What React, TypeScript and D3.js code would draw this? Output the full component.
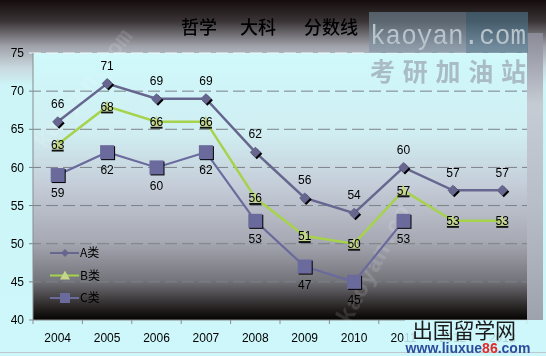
import React from "react";
import * as d3 from "d3";

const years = ["2004", "2005", "2006", "2007", "2008", "2009", "2010", "2011", "2012", "2013"];
const seriesA = [66, 71, 69, 69, 62, 56, 54, 60, 57, 57];
const seriesB = [63, 68, 66, 66, 56, 51, 50, 57, 53, 53];
const seriesC = [59, 62, 60, 62, 53, 47, 45, 53];
const yTicks = [40, 45, 50, 55, 60, 65, 70, 75];
const titleParts = ["哲学", "大科", "分数线"];
const legendNames = ["A类", "B类", "C类"];

const W = 546;
const H = 356;
const plot = { left: 33, right: 527, top: 53, bottom: 320 };

export default function App() {
  const x = d3.scaleBand<string>().domain(years).range([plot.left, plot.right]);
  const y = d3.scaleLinear().domain([40, 75]).range([plot.bottom, plot.top]);
  const cx = (i: number) => (x(years[i]) as number) + x.bandwidth() / 2;
  const line = d3
    .line<number>()
    .x((_, i) => cx(i))
    .y((d) => y(d));

  const numFont = "'Liberation Sans', Arial, sans-serif";
  const cjk = "'Noto Sans CJK SC', sans-serif";
  const colA = "#66668f";
  const colB = "#a6d24c";
  const colC = "#6a6a9c";

  const diamond = (px: number, py: number, r: number) =>
    `M${px},${py - r}L${px + r},${py}L${px},${py + r}L${px - r},${py}Z`;
  const tri = (px: number, py: number, r: number) =>
    `M${px},${py - r}L${px + r},${py + r * 0.8}L${px - r},${py + r * 0.8}Z`;

  return (
    <svg width={W} height={H} style={{ position: "absolute", left: 0, top: 0 }}>
      <defs>
        <linearGradient id="outer" x1="0" y1="0" x2="0" y2="1">
          <stop offset="0" stopColor="#150d0d" />
          <stop offset="0.06" stopColor="#3a3436" />
          <stop offset="0.13" stopColor="#a0a2aa" />
          <stop offset="0.19" stopColor="#c8d8de" />
          <stop offset="0.24" stopColor="#cdf5f8" />
          <stop offset="1" stopColor="#cdf7fa" />
        </linearGradient>
        <linearGradient id="plotbg" x1="0" y1="0" x2="0" y2="1">
          <stop offset="0" stopColor="#cff9fb" />
          <stop offset="0.3" stopColor="#d0eef2" />
          <stop offset="0.5" stopColor="#c4ccd8" />
          <stop offset="0.7" stopColor="#a8aab4" />
          <stop offset="0.85" stopColor="#75757c" />
          <stop offset="0.95" stopColor="#2a2626" />
          <stop offset="1" stopColor="#050202" />
        </linearGradient>
        <linearGradient id="rightstrip" x1="0" y1="0" x2="0" y2="1">
          <stop offset="0" stopColor="#8a8a96" />
          <stop offset="0.25" stopColor="#c6ccd4" />
          <stop offset="0.6" stopColor="#b8bec8" />
          <stop offset="1" stopColor="#9ea2ac" />
        </linearGradient>
      </defs>

      <rect x={0} y={0} width={W} height={H} fill="url(#outer)" />
      <rect x={plot.right} y={plot.top - 20} width={16} height={plot.bottom - plot.top + 20} fill="url(#rightstrip)" />
      <rect
        x={plot.left}
        y={plot.top}
        width={plot.right - plot.left}
        height={plot.bottom - plot.top}
        fill="url(#plotbg)"
      />
      <line x1={0} x2={W} y1={352.5} y2={352.5} stroke="#c0c8cc" />

      {/* faint diagonal watermarks */}
      <g opacity={0.14} fill="#ffffff" fontFamily="'Liberation Mono', monospace" fontWeight="bold" fontSize={24}>
        <text transform="translate(45,150) rotate(-52)">kaoyan.com</text>
        <text transform="translate(350,325) rotate(-62)">kaoyan.co</text>
      </g>

      {/* gridlines */}
      {yTicks.slice(1).map((t) => (
        <line
          key={t}
          x1={plot.left - 4}
          x2={plot.right}
          y1={y(t)}
          y2={y(t)}
          stroke={t === 75 ? "#f4f8f8" : "#7c8288"}
          strokeWidth={1}
          strokeDasharray="12,5"
        />
      ))}

      {/* axes */}
      <line x1={plot.left} x2={plot.left} y1={plot.top} y2={plot.bottom} stroke="#888c90" />
      <line x1={plot.left - 4} x2={plot.right} y1={plot.bottom} y2={plot.bottom} stroke="#888c90" />
      {years.map((yr) => (
        <line
          key={yr}
          x1={x(yr) as number}
          x2={x(yr) as number}
          y1={plot.bottom}
          y2={plot.bottom + 4}
          stroke="#888c90"
        />
      ))}
      <line x1={plot.right} x2={plot.right} y1={plot.bottom} y2={plot.bottom + 4} stroke="#888c90" />
      {yTicks.map((t) => (
        <text
          key={t}
          x={24}
          y={y(t)}
          dy="0.35em"
          textAnchor="end"
          fontFamily={numFont}
          fontSize={12}
          fill="#000"
        >
          {t}
        </text>
      ))}
      {years.map((yr) => (
        <text
          key={yr}
          x={(x(yr) as number) + x.bandwidth() / 2}
          y={338}
          dy="0.35em"
          textAnchor="middle"
          fontFamily={numFont}
          fontSize={12}
          fill="#000"
        >
          {yr}
        </text>
      ))}

      {/* series lines */}
      <path d={line(seriesC) || ""} fill="none" stroke={colC} strokeWidth={2.2} />
      <path d={line(seriesB) || ""} fill="none" stroke={colB} strokeWidth={2.5} />
      <path d={line(seriesA) || ""} fill="none" stroke={colA} strokeWidth={2.5} />

      {/* C markers */}
      {seriesC.map((v, i) => (
        <g key={"c" + i}>
          <rect x={cx(i) - 6} y={y(v) - 6} width={14} height={14} fill="#000" />
          <rect x={cx(i) - 7} y={y(v) - 7} width={14} height={14} fill={colC} />
        </g>
      ))}
      {/* B markers */}
      {seriesB.map((v, i) => (
        <g key={"b" + i}>
          <rect x={cx(i) - 6} y={y(v) + 5} width={12} height={2} fill="#111" />
          <path d={tri(cx(i), y(v), 6)} fill="#c4d68c" />
        </g>
      ))}
      {/* A markers */}
      {seriesA.map((v, i) => (
        <g key={"a" + i}>
          <path d={diamond(cx(i) + 1.5, y(v) + 1.5, 5.5)} fill="#000" />
          <path d={diamond(cx(i), y(v), 5.5)} fill={colA} />
        </g>
      ))}

      {/* labels */}
      {seriesA.map((v, i) => (
        <text
          key={"la" + i}
          x={cx(i)}
          y={y(v) - 18}
          dy="0.35em"
          textAnchor="middle"
          fontFamily={numFont}
          fontSize={12}
          fill="#000"
        >
          {v}
        </text>
      ))}
      {seriesB.map((v, i) => (
        <text
          key={"lb" + i}
          x={cx(i)}
          y={y(v)}
          dy="0.35em"
          textAnchor="middle"
          fontFamily={numFont}
          fontSize={12}
          fill="#000"
        >
          {v}
        </text>
      ))}
      {seriesC.map((v, i) => (
        <text
          key={"lc" + i}
          x={cx(i)}
          y={y(v) + 18}
          dy="0.35em"
          textAnchor="middle"
          fontFamily={numFont}
          fontSize={12}
          fill="#000"
        >
          {v}
        </text>
      ))}

      {/* legend */}
      {legendNames.map((name, i) => {
        const ly = 253 + i * 22.5;
        const c = i === 0 ? colA : i === 1 ? colB : colC;
        return (
          <g key={name}>
            <line x1={50} x2={79} y1={ly} y2={ly} stroke={c} strokeWidth={2} />
            {i === 0 && <path d={diamond(65, ly, 4)} fill={colA} />}
            {i === 1 && <path d={tri(65, ly, 5)} fill="#c4d68c" />}
            {i === 2 && <rect x={60} y={ly - 5} width={10} height={10} fill={colC} />}
            <text x={80} y={ly} dy="0.35em" fontFamily={cjk} fontSize={12} fill="#000">
              {name}
            </text>
          </g>
        );
      })}

      {/* title */}
      {titleParts.map((t, i) => (
        <text
          key={t}
          x={[199, 258, 331][i]}
          y={28}
          dy="0.35em"
          textAnchor="middle"
          fontFamily={cjk}
          fontSize={18}
          fontWeight={500}
          fill="#000"
        >
          {t}
        </text>
      ))}

      {/* top-right watermark */}
      <rect x={369} y={12} width={97} height={41} fill="#7890a0" opacity={0.55} />
      <rect x={466} y={12} width={62} height={41} fill="#4f7890" opacity={0.6} />
      <text
        x={370}
        y={44}
        fontFamily="'Liberation Mono', monospace"
        fontSize={28}
        fill="#b8c4cc"
        textLength={156}
        lengthAdjust="spacingAndGlyphs"
      >
        kaoyan.com
      </text>
      <text
        x={448}
        y={72}
        dy="0.35em"
        textAnchor="middle"
        fontFamily={cjk}
        fontWeight="bold"
        fontSize={25}
        fill="#a9bcc4"
        textLength={156}
        lengthAdjust="spacing"
      >
        考研加油站
      </text>

      {/* bottom-right watermark */}
      <rect x={405} y={320} width={128} height={32} fill="#cdf7fa" opacity={0.85} />
      <text
        x={464}
        y={331}
        dy="0.35em"
        textAnchor="middle"
        fontFamily={cjk}
        fontSize={21}
        fill="#1a1a1a"
        textLength={104}
        lengthAdjust="spacing"
      >
        出国留学网
      </text>
      <text
        x={468}
        y={348}
        dy="0.35em"
        textAnchor="middle"
        fontFamily="'Liberation Sans', Arial, sans-serif"
        fontWeight="bold"
        fontSize={14}
        fill="#2d4c9c"
      >
        www.liuxue<tspan fill="#e02828">86</tspan>.com
      </text>
    </svg>
  );
}
